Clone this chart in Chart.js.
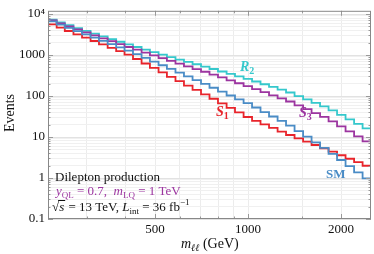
<!DOCTYPE html>
<html>
<head>
<meta charset="utf-8">
<script src="https://cdn.jsdelivr.net/npm/chart.js@4.4.0/dist/chart.umd.min.js"></script>
<style>
  html, body { margin: 0; padding: 0; background: #fff; }
</style>
</head>
<body>
<canvas id="chart" width="374" height="254"></canvas>
<script>
// Data (bin edges in GeV, events per bin)
const binEdges = [225, 240, 255, 272, 290, 309, 329, 351, 374, 398, 424, 452, 481, 513, 546, 582,
                  620, 661, 704, 750, 799, 852, 907, 967, 1030, 1097, 1169, 1246, 1327, 1414, 1507,
                  1605, 1710, 1822, 1941, 2068, 2204, 2348, 2500];
const eventsR2 = [7330, 6250, 5350, 4550, 3880, 3330, 2850, 2450, 2110, 1810, 1570, 1360, 1180, 1020,
                  887, 776, 681, 596, 522, 456, 397, 347, 301, 263, 226, 194, 167, 144, 122, 100,
                  82.6, 67.8, 55.7, 44.7, 34.6, 26.9, 20.9, 16.2];
const eventsS3 = [6970, 5890, 4990, 4210, 3560, 3020, 2560, 2180, 1850, 1570, 1350, 1150, 982, 839,
                  718, 617, 530, 455, 391, 334, 284, 242, 205, 175, 147, 124, 104, 87.9, 73.5, 59.2,
                  47.8, 38.4, 31.0, 24.2, 18.2, 13.8, 10.4, 7.87];
const eventsSM = [6610, 5510, 4590, 3820, 3190, 2660, 2210, 1850, 1540, 1280, 1050, 851, 693, 564,
                  458, 371, 301, 243, 197, 159, 128, 103, 83.0, 66.8, 52.5, 40.7, 31.7, 24.7, 19.0,
                  13.9, 10.2, 7.41, 5.42, 3.90, 2.75, 1.95, 1.38, 0.975];
const eventsS1 = [5610, 4660, 3860, 3200, 2650, 2200, 1810, 1500, 1240, 1020, 800, 621, 484, 378,
                  294, 230, 180, 141, 110, 85.7, 66.2, 51.4, 39.7, 30.8, 24.9, 20.4, 16.7, 13.6,
                  11.2, 9.27, 7.69, 6.38, 5.30, 4.38, 3.59, 2.95, 2.43, 1.99];

// Axis ticks
const xGridTicks = [300, 400, 500, 600, 700, 800, 900, 1000, 1500, 2000];
const xLabelTicks = [500, 1000, 2000];
const yMajorTicks = [0.1, 1, 10, 100, 1000, 10000];
const yMajorLabels = ['0.1', '1', '10', '100', '1000', '10\u2074'];

const SERIF = "'Liberation Serif', 'DejaVu Serif', serif";
const COLORS = {
    R2: '#35c8cc',
    S3: '#9c35a0',
    SM: '#4a8cc6',
    S1: '#e8242b'
};

// histogram as stepped line: left edge of each bin, plus the closing edge
function histPoints(values) {
    const pts = values.map((v, i) => ({ x: binEdges[i], y: v }));
    pts.push({ x: binEdges[values.length], y: values[values.length - 1] });
    return pts;
}

function makeDataset(label, values, color) {
    return {
        label: label,
        data: histPoints(values),
        borderColor: color,
        backgroundColor: color,
        borderWidth: 1.8,
        stepped: true,
        pointRadius: 0,
        fill: false
    };
}

// minor log ticks 1..9 x 10^n
const yAllTicks = [];
for (let e = -1; e <= 4; e++) {
    for (let m = 1; m <= 9; m++) {
        const v = Number((m * Math.pow(10, e)).toPrecision(3));
        if (v <= 10000) yAllTicks.push(v);
    }
}

function drawRuns(ctx, x, y, runs, color) {
    runs.forEach(r => {
        ctx.font = r.font;
        ctx.fillStyle = r.color || color;
        ctx.fillText(r.text, x, y + (r.dy || 0));
        x += ctx.measureText(r.text).width + (r.gap || 0);
    });
    return x;
}

const decorPlugin = {
    id: 'decor',
    afterDraw(chart) {
        const ctx = chart.ctx;
        const a = chart.chartArea;
        const xs = chart.scales.x;
        const ys = chart.scales.y;
        ctx.save();

        // inner tick marks
        ctx.strokeStyle = '#999';
        ctx.lineWidth = 1;
        ctx.beginPath();
        yAllTicks.forEach(v => {
            if (v < 0.1) return;
            const py = Math.round(ys.getPixelForValue(v)) + 0.5;
            const len = yMajorTicks.includes(v) ? 5 : 2.5;
            ctx.moveTo(a.left, py); ctx.lineTo(a.left + len, py);
            ctx.moveTo(a.right, py); ctx.lineTo(a.right - len, py);
        });
        xGridTicks.forEach(v => {
            const px = Math.round(xs.getPixelForValue(v)) + 0.5;
            const len = xLabelTicks.includes(v) ? 5 : 2.5;
            ctx.moveTo(px, a.bottom); ctx.lineTo(px, a.bottom - len);
            ctx.moveTo(px, a.top); ctx.lineTo(px, a.top + len);
        });
        ctx.stroke();

        // frame
        ctx.strokeStyle = '#888';
        ctx.strokeRect(a.left + 0.5, a.top + 0.5, a.right - a.left - 1, a.bottom - a.top - 1);

        ctx.textBaseline = 'alphabetic';
        ctx.textAlign = 'left';

        // curve labels
        drawRuns(ctx, 240, 71, [
            { text: 'R', font: `italic bold 14px ${SERIF}` },
            { text: '2', font: `bold 10px ${SERIF}`, dy: 3 }
        ], COLORS.R2);
        drawRuns(ctx, 216, 116, [
            { text: 'S', font: `italic bold 14px ${SERIF}` },
            { text: '1', font: `bold 10px ${SERIF}`, dy: 3 }
        ], COLORS.S1);
        drawRuns(ctx, 299, 117, [
            { text: 'S', font: `italic bold 14px ${SERIF}` },
            { text: '3', font: `bold 10px ${SERIF}`, dy: 3 }
        ], COLORS.S3);
        drawRuns(ctx, 326, 178, [
            { text: 'SM', font: `bold 13px ${SERIF}` }
        ], COLORS.SM);

        // info text
        drawRuns(ctx, 55, 181, [
            { text: 'Dilepton production', font: `13px ${SERIF}` }
        ], '#111');
        drawRuns(ctx, 56, 195, [
            { text: 'y', font: `italic 13px ${SERIF}` },
            { text: 'QL', font: `9px ${SERIF}`, dy: 3 },
            { text: ' = 0.7,  ', font: `13px ${SERIF}` },
            { text: 'm', font: `italic 13px ${SERIF}` },
            { text: 'LQ', font: `9px ${SERIF}`, dy: 3 },
            { text: ' = 1 TeV', font: `13px ${SERIF}` }
        ], COLORS.S3);
        const rx0 = 52;
        ctx.font = `13px ${SERIF}`;
        const rootW = ctx.measureText('\u221A').width;
        ctx.font = `italic 13px ${SERIF}`;
        const sW = ctx.measureText('s').width;
        drawRuns(ctx, rx0, 211, [
            { text: '\u221A', font: `13px ${SERIF}` },
            { text: 's', font: `italic 13px ${SERIF}`, gap: 1 },
            { text: ' = 13 TeV, ', font: `13px ${SERIF}` },
            { text: 'L', font: `italic 13px ${SERIF}` },
            { text: 'int', font: `9px ${SERIF}`, dy: 3 },
            { text: ' = 36 fb', font: `13px ${SERIF}` },
            { text: '\u22121', font: `9px ${SERIF}`, dy: -6 }
        ], '#111');
        ctx.strokeStyle = '#111';
        ctx.beginPath();
        ctx.moveTo(rx0 + rootW - 1, 200.5);
        ctx.lineTo(rx0 + rootW + sW + 1, 200.5);
        ctx.stroke();

        // axis titles
        ctx.fillStyle = '#111';
        drawRuns(ctx, 181, 248, [
            { text: 'm', font: `italic 14px ${SERIF}` },
            { text: '\u2113\u2113', font: `italic 10px ${SERIF}`, dy: 3 },
            { text: ' (GeV)', font: `14px ${SERIF}` }
        ], '#111');

        ctx.save();
        ctx.translate(14, 113);
        ctx.rotate(-Math.PI / 2);
        ctx.textAlign = 'center';
        ctx.font = `14px ${SERIF}`;
        ctx.fillText('Events', 0, 0);
        ctx.restore();

        ctx.restore();
    }
};

function initChart() {
    const ctx = document.getElementById('chart').getContext('2d');
    new Chart(ctx, {
        type: 'line',
        data: {
            datasets: [
                makeDataset('SM', eventsSM, COLORS.SM),
                makeDataset('S1', eventsS1, COLORS.S1),
                makeDataset('S3', eventsS3, COLORS.S3),
                makeDataset('R2', eventsR2, COLORS.R2)
            ]
        },
        options: {
            responsive: false,
            animation: false,
            devicePixelRatio: 1,
            layout: { padding: { top: 5, right: 3, left: 0, bottom: 0 } },
            plugins: {
                legend: { display: false },
                tooltip: { enabled: false }
            },
            scales: {
                x: {
                    type: 'logarithmic',
                    min: 225,
                    max: 2500,
                    afterBuildTicks: scale => {
                        scale.ticks = xGridTicks.map(v => ({ value: v }));
                    },
                    afterFit: scale => { scale.height = 35; },
                    border: { display: false },
                    grid: { color: '#ececec', drawTicks: false },
                    ticks: {
                        autoSkip: false,
                        maxRotation: 0,
                        padding: 3,
                        color: '#111',
                        font: { family: SERIF, size: 13 },
                        callback: value => xLabelTicks.includes(value) ? String(value) : ''
                    }
                },
                y: {
                    type: 'logarithmic',
                    min: 0.1,
                    max: 12000,
                    afterBuildTicks: scale => {
                        scale.ticks = yAllTicks.map(v => ({ value: v }));
                    },
                    afterFit: scale => { scale.width = 48; },
                    border: { display: false },
                    grid: {
                        drawTicks: false,
                        color: c => yMajorTicks.includes(c.tick && c.tick.value) ? '#e2e2e2' : '#f0f0f0'
                    },
                    ticks: {
                        autoSkip: false,
                        padding: 3,
                        color: '#111',
                        font: { family: SERIF, size: 13 },
                        callback: value => {
                            const i = yMajorTicks.indexOf(value);
                            return i >= 0 ? yMajorLabels[i] : '';
                        }
                    }
                }
            }
        },
        plugins: [decorPlugin]
    });
}

initChart();
</script>
</body>
</html>
